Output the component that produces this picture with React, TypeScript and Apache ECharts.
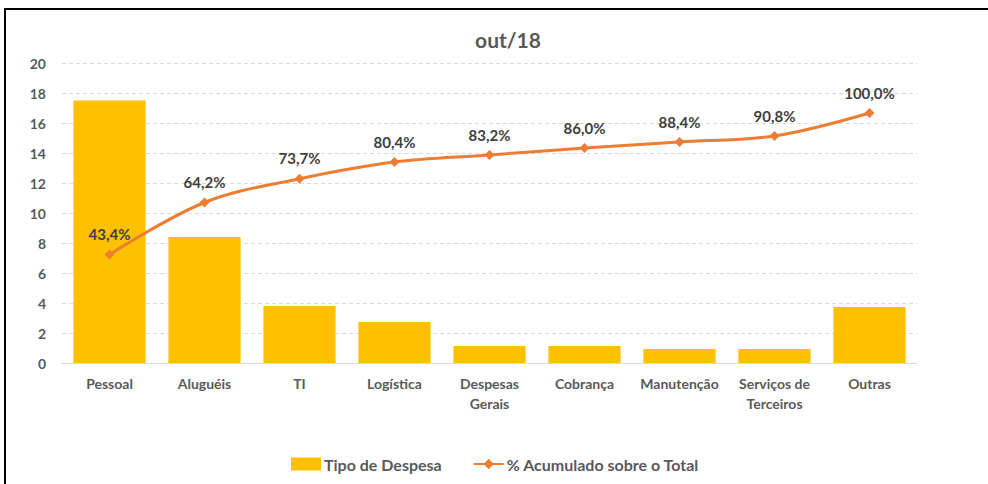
import React, { useEffect, useRef } from "react";
import * as echarts from "echarts";

const categories = ["Pessoal", "Aluguéis", "TI", "Logística", "Despesas Gerais", "Cobrança", "Manutenção", "Serviços de Terceiros", "Outras"];
const expenseValues = [17.5, 8.4, 3.8, 2.73, 1.13, 1.13, 0.93, 0.93, 3.73];
const cumulativePct = [43.4, 64.2, 73.7, 80.4, 83.2, 86.0, 88.4, 90.8, 100.0];
const yTicks = { min: 0, max: 20, interval: 2 };
const titleText = "out/18";
const barName = "Tipo de Despesa";
const lineName = "% Acumulado sobre o Total";

const FONT = "Lato, 'Open Sans', sans-serif";

const wrapLabel = (v: string) => {
  if (v.length <= 12) return v;
  const i = v.lastIndexOf(" ");
  return i > 0 ? v.slice(0, i) + "\n" + v.slice(i + 1) : v;
};

export default function App() {
  const ref = useRef<HTMLDivElement>(null);
  useEffect(() => {
    const chart = echarts.init(ref.current!, null, { renderer: "svg" });
    chart.setOption({
      animation: false,
      textStyle: { fontFamily: FONT },
      title: {
        text: titleText,
        left: 503,
        top: 24,
        textAlign: "center",
        textStyle: { fontFamily: FONT, fontSize: 21, fontWeight: "bold", color: "#595959" },
      },
      graphic: [
        {
          type: "rect",
          shape: { x: 5, y: 9, width: 1100, height: 600 },
          style: { fill: "none", stroke: "#000", lineWidth: 2 },
          silent: true,
          z: 100,
        },
      ],
      legend: {
        top: 451,
        left: 286,
        itemGap: 31,
        itemWidth: 30,
        itemHeight: 13,
        textStyle: { fontFamily: FONT, fontSize: 16, fontWeight: "bold", color: "#595959", padding: [0, 0, 0, -2] },
        data: [
          { name: barName, icon: "rect" },
          { name: lineName },
        ],
      },
      grid: { left: 62, right: 71, top: 63, bottom: 121, containLabel: false },
      xAxis: {
        type: "category",
        data: categories,
        axisLine: { show: true, lineStyle: { color: "#D9D9D9", width: 1 } },
        axisTick: { show: false },
        axisLabel: {
          interval: 0,
          margin: 10,
          fontFamily: FONT,
          fontSize: 14,
          fontWeight: "bold",
          color: "#595959",
          lineHeight: 20,
          formatter: wrapLabel,
        },
      },
      yAxis: [
        {
          type: "value",
          min: yTicks.min,
          max: yTicks.max,
          interval: yTicks.interval,
          axisLine: { show: false },
          axisTick: { show: false },
          axisLabel: { fontFamily: FONT, fontSize: 14, fontWeight: "bold", color: "#595959", margin: 16 },
          splitLine: { lineStyle: { color: "#D9D9D9", type: [4, 3] } },
        },
        {
          type: "value",
          min: 0,
          max: 120,
          show: false,
          splitLine: { show: false },
        },
      ],
      series: [
        {
          name: barName,
          type: "bar",
          data: expenseValues,
          barCategoryGap: "24%",
          itemStyle: { color: "#FFC000" },
        },
        {
          name: lineName,
          type: "line",
          yAxisIndex: 1,
          data: cumulativePct,
          smooth: 0.35,
          symbol: "diamond",
          symbolSize: 10,
          lineStyle: { color: "#ED7D31", width: 3 },
          itemStyle: { color: "#ED7D31" },
          label: {
            show: true,
            position: "top",
            distance: 8,
            fontFamily: FONT,
            fontSize: 15,
            fontWeight: "bold",
            color: "#404040",
            formatter: (p: any) => p.value.toFixed(1).replace(".", ",") + "%",
          },
          z: 5,
        },
      ],
    });
    return () => chart.dispose();
  }, []);
  return (
    <div style={{ position: "absolute", left: 0, top: 0, width: 988, height: 484, background: "#fff" }}>
      <div ref={ref} style={{ width: 988, height: 484 }} />
    </div>
  );
}
